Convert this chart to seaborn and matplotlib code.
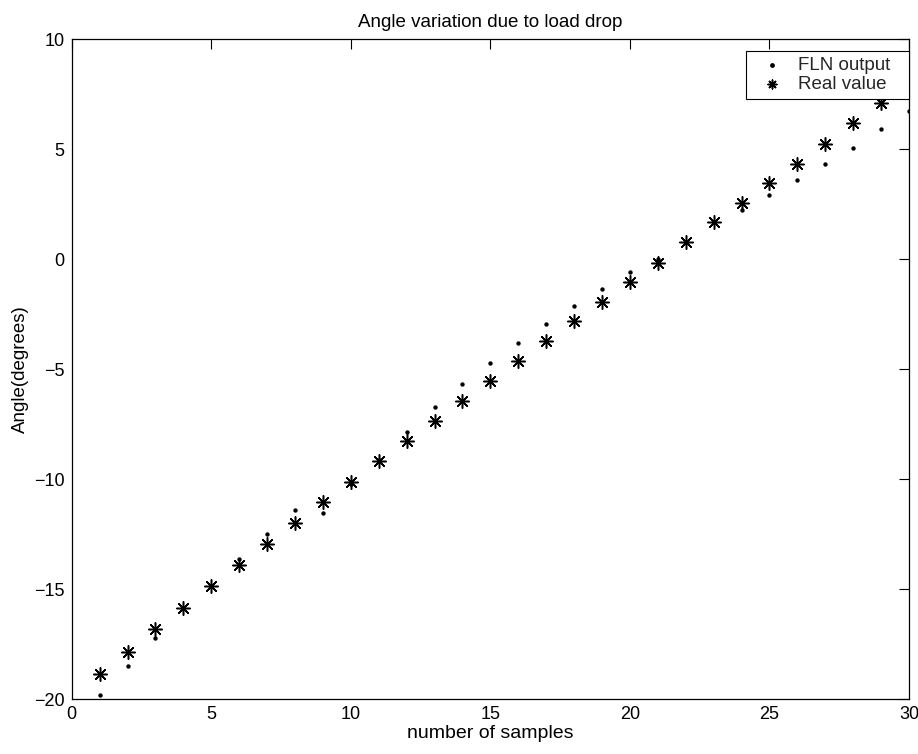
import numpy as np
import pandas as pd
import matplotlib
matplotlib.use("Agg")
import matplotlib.pyplot as plt
import seaborn as sns

samples = list(range(1, 31))
fln_output = [-19.80, -18.50, -17.20, -15.85, -14.85, -13.62, -12.47, -11.40, -11.55, -10.20,
              -9.10, -7.84, -6.70, -5.67, -4.70, -3.79, -2.94, -2.11, -1.34, -0.58,
              0.00, 0.77, 1.68, 2.24, 2.92, 3.60, 4.32, 5.07, 5.91, 6.75]
real_value = [-18.84, -17.84, -16.82, -15.84, -14.85, -13.91, -12.94, -12.00, -11.05, -10.11,
              -9.17, -8.25, -7.35, -6.43, -5.52, -4.61, -3.71, -2.80, -1.93, -1.03,
              -0.15, 0.77, 1.68, 2.57, 3.45, 4.35, 5.25, 6.18, 7.09, 8.00]

title = "Angle variation due to load drop"
xlabel = "number of samples"
ylabel = "Angle(degrees)"
xticks = [0, 5, 10, 15, 20, 25, 30]
yticks = [-20, -15, -10, -5, 0, 5, 10]

df = pd.DataFrame({"x": samples, "fln": fln_output, "real": real_value})

sns.set_theme(style="white")
plt.rcParams['font.family'] = ['Liberation Sans', 'DejaVu Sans']

fig = plt.figure(figsize=(9.18, 7.54), dpi=100)
ax = fig.add_axes([0.0781, 0.0725, 0.9121, 0.8754])

sns.scatterplot(data=df, x="x", y="fln", ax=ax, marker="o", color="black",
                s=10, linewidth=0, label="FLN output", zorder=3)
sns.scatterplot(data=df, x="x", y="real", ax=ax, marker=(8, 2, 0), color="black",
                edgecolor="black", s=95, linewidth=1.1, label="Real value", zorder=2)

ax.set_xlim(0, 30)
ax.set_ylim(-20, 10)
ax.set_xticks(xticks)
ax.set_yticks(yticks)
ax.set_xticklabels([str(t) for t in xticks])
ax.set_yticklabels([str(t).replace("-", "\u2212") for t in yticks])
ax.tick_params(direction="in", length=7, width=0.8, color="black",
               top=True, right=True, labelsize=13, labelcolor="black", pad=5)
for sp in ax.spines.values():
    sp.set_color("black")
    sp.set_linewidth(0.9)

ax.set_title(title, fontsize=13.5, color="black", pad=9)
ax.set_xlabel(xlabel, fontsize=14, color="black", labelpad=1)
ax.set_ylabel(ylabel, fontsize=13.5, color="black", labelpad=4)

leg = ax.legend(loc="upper left", bbox_to_anchor=(0.8053, 0.0, 0.1947, 0.9823),
                mode="expand", fontsize=13.5, frameon=True, fancybox=False,
                framealpha=1, edgecolor="black", borderaxespad=0,
                handletextpad=0.3, borderpad=0.3, labelspacing=0.12, handlelength=2.17)
leg.get_frame().set_linewidth(0.8)
leg.set_zorder(10)
for h in leg.legend_handles:
    h.set_sizes([40] if h.get_label() == "Real value" else [12])

fig.savefig("out.png", dpi=100, facecolor="white")
